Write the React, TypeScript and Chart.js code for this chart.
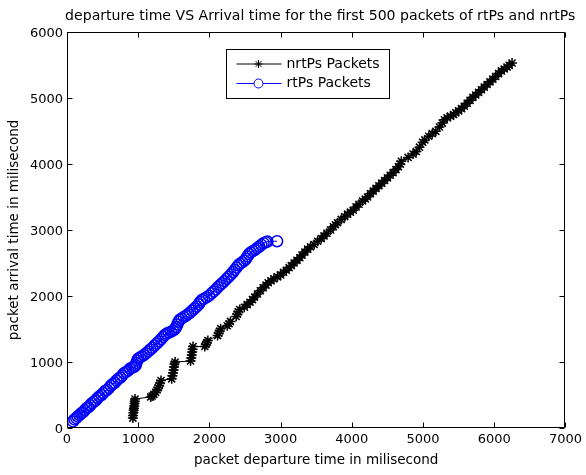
import React, { useEffect, useRef } from "react";
import { Chart, registerables } from "chart.js";

Chart.register(...registerables);

const chartTitle = "departure time VS Arrival time for the first 500 packets of rtPs and nrtPs";
const xAxisTitle = "packet departure time in milisecond";
const yAxisTitle = "packet arrival time in milisecond";
const seriesNames = ["nrtPs Packets", "rtPs Packets"];
const xTicks = [0, 1000, 2000, 3000, 4000, 5000, 6000, 7000];
const yTicks = [0, 1000, 2000, 3000, 4000, 5000, 6000];

const nrtDeparture = [
  925, 928, 932, 936, 940, 944, 948, 952, 955,
  1175, 1195, 1220, 1245, 1265, 1280, 1295, 1305, 1320,
  1470, 1480, 1490, 1497, 1503, 1510, 1518,
  1735, 1745, 1752, 1758, 1764, 1770,
  1935, 1950, 1965, 1978,
  2115, 2130, 2145, 2158,
  2250, 2275, 2295,
  2375, 2392, 2405, 2425,
  2490, 2530, 2570, 2605, 2635,
  2675, 2715, 2755, 2795, 2825, 2865, 2905, 2955, 3000,
  3040, 3080, 3120, 3150, 3190, 3230, 3270, 3300, 3340, 3380,
  3420, 3470, 3520, 3570, 3610, 3650, 3700, 3740, 3770, 3800,
  3850, 3900, 3940, 3980, 4020, 4060, 4100, 4150, 4190, 4220,
  4260, 4300, 4340, 4380, 4420, 4460, 4500, 4540, 4580, 4620,
  4655, 4680, 4695,
  4790, 4860, 4905, 4950, 4995, 5025, 5080, 5130, 5180, 5230,
  5270, 5300, 5340, 5385, 5430, 5460, 5500, 5540, 5580, 5620,
  5660, 5700, 5740, 5780, 5820, 5860, 5900, 5940, 5980, 6020,
  6060, 6100, 6140, 6180, 6210, 6250,
];
const nrtArrival = [
  150, 190, 230, 270, 300, 335, 370, 405, 440,
  470, 485, 510, 540, 575, 610, 645, 680, 720,
  745, 790, 835, 880, 925, 970, 1000,
  1015, 1060, 1105, 1150, 1195, 1235,
  1235, 1265, 1295, 1325,
  1400, 1435, 1470, 1505,
  1550, 1580, 1615,
  1690, 1725, 1760, 1795,
  1830, 1870, 1905, 1945, 1985,
  2030, 2080, 2125, 2165, 2200, 2230, 2260, 2290, 2320,
  2360, 2390, 2430, 2460, 2500, 2540, 2580, 2620, 2665, 2710,
  2745, 2780, 2830, 2870, 2910, 2950, 3000, 3050, 3080, 3110,
  3160, 3200, 3240, 3270, 3300, 3350, 3390, 3440, 3470, 3500,
  3550, 3590, 3630, 3670, 3710, 3750, 3790, 3830, 3870, 3915,
  3960, 4000, 4040,
  4100, 4150, 4190, 4255, 4330, 4365, 4420, 4460, 4495, 4560,
  4620, 4670, 4700, 4725, 4750, 4775, 4805, 4840, 4875, 4920,
  4965, 5010, 5045, 5085, 5125, 5165, 5205, 5245, 5285, 5325,
  5370, 5410, 5440, 5470, 5495, 5530,
];

const rtDeparture = [
  85, 105, 130, 150, 175, 200, 225, 250, 275, 300,
  325, 350, 380, 405, 430, 455, 485, 510, 535, 560,
  590, 615, 640, 670, 695, 720, 750, 775, 800, 830,
  860, 885, 915, 945, 965, 975, 985, 1000, 1025, 1050,
  1080, 1110, 1140, 1170, 1200, 1230, 1260, 1290, 1320, 1350,
  1375, 1400, 1430, 1460, 1490, 1515, 1535, 1550, 1565, 1585,
  1610, 1640, 1670, 1700, 1730, 1760, 1790, 1820, 1850, 1870,
  1895, 1925, 1960, 1995, 2030, 2060, 2090, 2120, 2150, 2180,
  2210, 2240, 2270, 2300, 2330, 2355, 2380, 2405, 2430, 2460,
  2490, 2515, 2535, 2555, 2580, 2610, 2640, 2670, 2700, 2730,
  2760, 2790, 2815, 2950,
];
const rtArrival = [
  100, 130, 150, 175, 195, 225, 240, 270, 300, 315,
  345, 375, 400, 420, 455, 480, 500, 530, 560, 575,
  605, 640, 665, 685, 720, 745, 765, 795, 830, 850,
  870, 900, 915, 925, 950, 985, 1020, 1050, 1070, 1085,
  1105, 1130, 1160, 1190, 1215, 1250, 1280, 1310, 1345, 1380,
  1410, 1430, 1445, 1460, 1475, 1500, 1530, 1570, 1610, 1640,
  1660, 1680, 1700, 1725, 1750, 1780, 1810, 1840, 1875, 1910,
  1940, 1960, 1980, 2005, 2040, 2070, 2100, 2135, 2165, 2195,
  2225, 2260, 2290, 2325, 2360, 2395, 2430, 2465, 2490, 2510,
  2535, 2565, 2600, 2635, 2660, 2680, 2700, 2725, 2750, 2775,
  2800, 2815, 2825, 2830,
];

const FONT = "'DejaVu Sans', 'Liberation Sans', sans-serif";

const zip = (xs: number[], ys: number[]) => xs.map((x, i) => ({ x, y: ys[i] }));

const framePlugin = {
  id: "matlabFrame",
  afterDraw(chart: any) {
    const { ctx, chartArea, scales } = chart;
    const L = Math.round(chartArea.left) + 0.5;
    const R = Math.round(chartArea.right) - 0.5;
    const T = Math.round(chartArea.top) + 0.5;
    const B = Math.round(chartArea.bottom) - 0.5;
    ctx.save();

    // title, centred over the axes
    ctx.fillStyle = "#000";
    ctx.font = `14.1px ${FONT}`;
    ctx.textAlign = "center";
    ctx.textBaseline = "middle";
    ctx.fillText(chartTitle, (chartArea.left + chartArea.right) / 2 + 4, 16.8);

    ctx.strokeStyle = "#000";
    ctx.lineWidth = 1;
    ctx.beginPath();
    ctx.rect(L, T, R - L, B - T);
    const tl = 5;
    for (const v of xTicks) {
      const p = Math.round(scales.x.getPixelForValue(v)) + 0.5;
      ctx.moveTo(p, B);
      ctx.lineTo(p, B - tl);
      ctx.moveTo(p, T);
      ctx.lineTo(p, T + tl);
    }
    for (const v of yTicks) {
      const p = Math.round(scales.y.getPixelForValue(v)) + 0.5;
      ctx.moveTo(L, p);
      ctx.lineTo(L + tl, p);
      ctx.moveTo(R, p);
      ctx.lineTo(R - tl, p);
    }
    ctx.stroke();

    // legend box
    const bx = Math.round(chartArea.left) + 159 + 0.5;
    const by = Math.round(chartArea.top) + 17 + 0.5;
    const bw = 163;
    const bh = 49;
    ctx.fillStyle = "#fff";
    ctx.fillRect(bx, by, bw, bh);
    ctx.strokeStyle = "#000";
    ctx.strokeRect(bx, by, bw, bh);

    const rows = [by + 14.5, by + 34];
    const lx0 = bx + 10;
    const lx1 = bx + 55;
    const mx = bx + 32;
    // row 1: nrtPs
    ctx.strokeStyle = "#000";
    ctx.beginPath();
    ctx.moveTo(lx0, rows[0]);
    ctx.lineTo(lx1, rows[0]);
    const r = 4;
    const d = r * Math.SQRT1_2;
    ctx.moveTo(mx - r, rows[0]);
    ctx.lineTo(mx + r, rows[0]);
    ctx.moveTo(mx, rows[0] - r);
    ctx.lineTo(mx, rows[0] + r);
    ctx.moveTo(mx - d, rows[0] - d);
    ctx.lineTo(mx + d, rows[0] + d);
    ctx.moveTo(mx - d, rows[0] + d);
    ctx.lineTo(mx + d, rows[0] - d);
    ctx.stroke();
    // row 2: rtPs
    ctx.strokeStyle = "#0000ff";
    ctx.beginPath();
    ctx.moveTo(lx0, rows[1]);
    ctx.lineTo(mx - 4.5, rows[1]);
    ctx.moveTo(mx + 4.5, rows[1]);
    ctx.lineTo(lx1, rows[1]);
    ctx.stroke();
    ctx.beginPath();
    ctx.arc(mx, rows[1], 4.5, 0, Math.PI * 2);
    ctx.stroke();

    ctx.fillStyle = "#000";
    ctx.font = `14px ${FONT}`;
    ctx.textBaseline = "middle";
    ctx.textAlign = "left";
    ctx.fillText(seriesNames[0], bx + 60, rows[0]);
    ctx.fillText(seriesNames[1], bx + 60, rows[1]);
    ctx.restore();
  },
};

export default function App() {
  const ref = useRef<HTMLCanvasElement>(null);
  useEffect(() => {
    const chart = new Chart(ref.current as HTMLCanvasElement, {
      type: "scatter",
      data: {
        datasets: [
          {
            label: seriesNames[0],
            data: zip(nrtDeparture, nrtArrival),
            showLine: true,
            borderColor: "#000",
            borderWidth: 1,
            pointStyle: "star",
            pointRadius: 5,
            pointHoverRadius: 5,
            pointBorderColor: "#000",
            pointBackgroundColor: "rgba(0,0,0,0)",
            pointBorderWidth: 1.5,
          },
          {
            label: seriesNames[1],
            data: zip(rtDeparture, rtArrival),
            showLine: true,
            borderColor: "#0000ff",
            borderWidth: 1,
            pointStyle: "circle",
            pointRadius: 5.5,
            pointHoverRadius: 5.5,
            pointBorderColor: "#0000ff",
            pointBackgroundColor: "rgba(0,0,0,0)",
            pointBorderWidth: 1.5,
          },
        ],
      },
      options: {
        responsive: false,
        animation: false,
        devicePixelRatio: 1,
        layout: { padding: { left: 0, right: 15, top: 32, bottom: 0 } },
        plugins: {
          legend: { display: false },
          tooltip: { enabled: false },
          title: { display: false },
        },
        scales: {
          x: {
            type: "linear",
            min: 0,
            max: 7000,
            grid: { display: false, drawTicks: false },
            border: { display: false },
            ticks: {
              stepSize: 1000,
              color: "#000",
              font: { family: FONT, size: 13 },
              padding: 4,
              maxRotation: 0,
              autoSkip: false,
              callback: (v: any) => String(v),
            },
            title: {
              display: true,
              text: xAxisTitle,
              color: "#000",
              font: { family: FONT, size: 13.5 },
              padding: { top: 0, bottom: 6 },
            },
            afterFit: (s: any) => {
              s.height = 47;
            },
          },
          y: {
            type: "linear",
            min: 0,
            max: 6000,
            grid: { display: false, drawTicks: false },
            border: { display: false },
            ticks: {
              stepSize: 1000,
              color: "#000",
              font: { family: FONT, size: 13 },
              padding: 4,
              labelOffset: 2,
              autoSkip: false,
              callback: (v: any) => String(v),
            },
            title: {
              display: true,
              text: yAxisTitle,
              color: "#000",
              font: { family: FONT, size: 13.5 },
              padding: { top: 6, bottom: 0 },
            },
            afterFit: (s: any) => {
              s.width = 67;
            },
          },
        },
      },
      plugins: [framePlugin],
    } as any);
    return () => chart.destroy();
  }, []);
  return (
    <div style={{ position: "absolute", left: 0, top: 0, width: 586, height: 475, background: "#fff" }}>
      <canvas ref={ref} width={586} height={475} style={{ display: "block", width: 586, height: 475 }} />
    </div>
  );
}
